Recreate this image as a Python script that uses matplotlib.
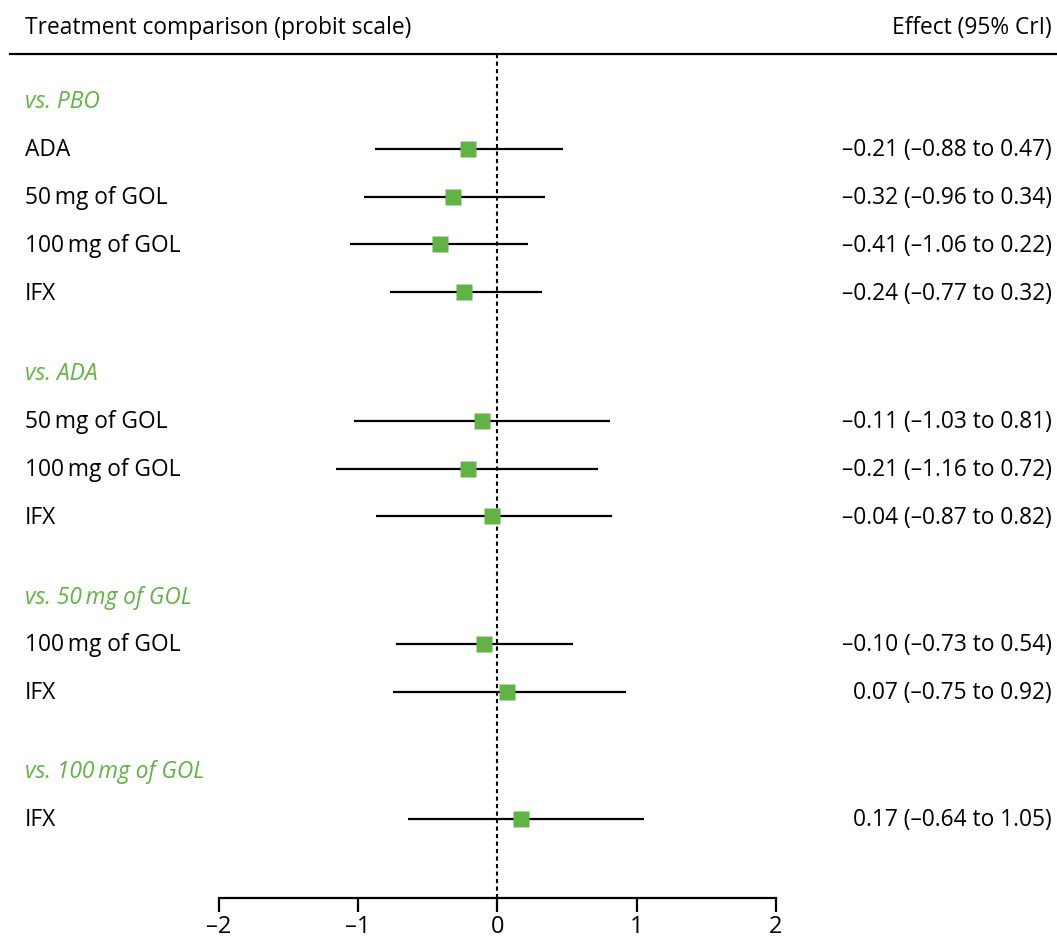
import matplotlib
matplotlib.use("Agg")
import matplotlib.pyplot as plt

plt.rcParams['font.family'] = ['Open Sans', 'DejaVu Sans']

groups = ["vs. PBO", "vs. ADA", "vs. 50\u2009mg of GOL", "vs. 100\u2009mg of GOL"]
group_labels = [
    ["ADA", "50\u2009mg of GOL", "100\u2009mg of GOL", "IFX"],
    ["50\u2009mg of GOL", "100\u2009mg of GOL", "IFX"],
    ["100\u2009mg of GOL", "IFX"],
    ["IFX"],
]
estimates = [-0.21, -0.32, -0.41, -0.24, -0.11, -0.21, -0.04, -0.10, 0.07, 0.17]
lower = [-0.88, -0.96, -1.06, -0.77, -1.03, -1.16, -0.87, -0.73, -0.75, -0.64]
upper = [0.47, 0.34, 0.22, 0.32, 0.81, 0.72, 0.82, 0.54, 0.92, 1.05]
xticks = [-2, -1, 0, 1, 2]

W, H = 1057, 938
fig = plt.figure(figsize=(W / 100, H / 100), dpi=100)
axis_y = 898
ax = fig.add_axes([0, (H - axis_y) / H, 1, axis_y / H])
ppu = (776 - 219) / 4.0
ax.set_xlim(-2 - 219 / ppu, 2 + (W - 776) / ppu)
ax.set_ylim(axis_y, 0)

green = "#62B346"
fs = 16.4
dy = 1.5

# layout positions (pixel rows)
header_y = [101, 373, 596, 771]
row_step = 47.8

x_left = 25 / ppu - 2 - 219 / ppu
x_right = 1052 / ppu - 2 - 219 / ppu

ax.text(x_left, 27 + dy, "Treatment comparison (probit scale)", fontsize=fs,
        va="center", ha="left")
ax.text(x_right, 27 + dy, "Effect (95% CrI)", fontsize=fs, va="center", ha="right")
ax.axhline(54, xmin=10 / W, xmax=1, color="black", lw=1.6)
ax.vlines(0, 54, axis_y, colors="black", lw=1.5, linestyles=(0, (2.0, 1.6)))

def fmt(v):
    s = f"{abs(v):.2f}"
    return ("\u2013" + s) if v < 0 else s

k = 0
for g, hy, labels in zip(groups, header_y, group_labels):
    ax.text(x_left, hy + dy, g, fontsize=fs, style="italic", color=green, va="center", ha="left")
    for j, lab in enumerate(labels):
        y = hy + row_step * (j + 1)
        ax.text(x_left, y + dy, lab, fontsize=fs, va="center", ha="left")
        ax.plot([lower[k], upper[k]], [y, y], color="black", lw=1.6, solid_capstyle="butt")
        ax.plot(estimates[k], y, marker="s", ms=11.5, color=green, mec="none")
        ax.text(x_right, y + dy, f"{fmt(estimates[k])} ({fmt(lower[k])} to {fmt(upper[k])})",
                fontsize=fs, va="center", ha="right")
        k += 1

for s in ["top", "left", "right"]:
    ax.spines[s].set_visible(False)
ax.spines["bottom"].set_bounds(-2, 2)
ax.spines["bottom"].set_linewidth(1.6)
ax.set_xticks(xticks)
ax.set_xticklabels([("\u2013" + str(abs(t))) if t < 0 else str(t) for t in xticks])
ax.tick_params(axis="x", direction="out", length=10, width=1.6, labelsize=17, pad=2.5)
ax.set_yticks([])

fig.savefig("out.png", dpi=100)
